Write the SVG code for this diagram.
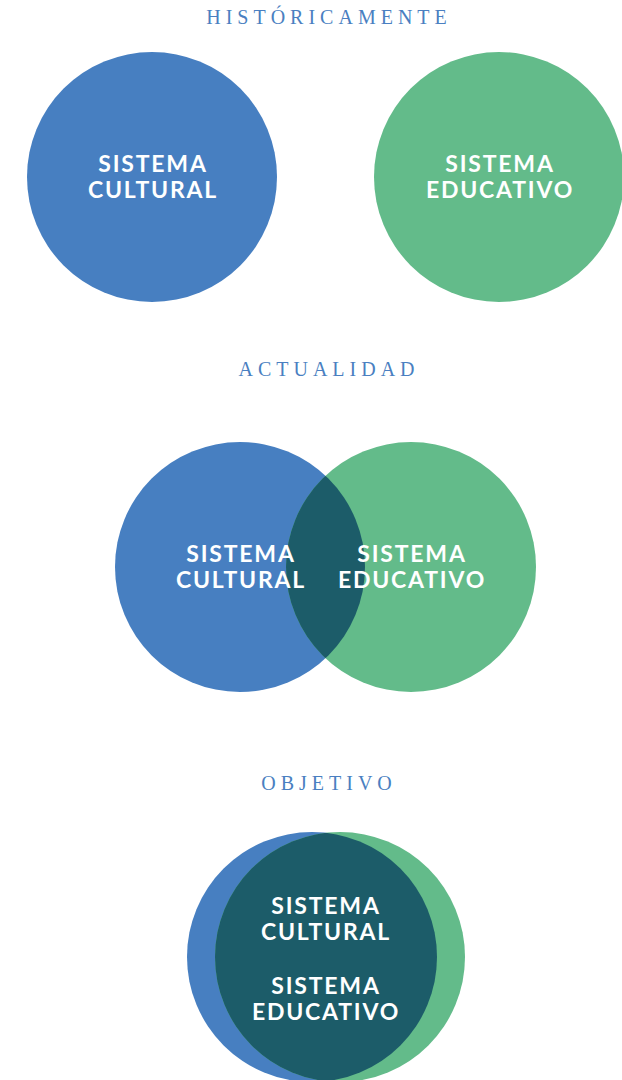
<svg xmlns="http://www.w3.org/2000/svg" width="622" height="1080" viewBox="0 0 622 1080">
<defs>
<style>
.title{font-family:"Liberation Serif","DejaVu Serif",serif;font-size:20px;fill:#4A7FC1;letter-spacing:5px;text-anchor:middle}
.lbl{font-family:Lato,"Liberation Sans",sans-serif;font-weight:bold;font-size:23px;fill:#ffffff;letter-spacing:1.8px;text-anchor:middle}
.blue{fill:#477FC1}
.green{fill:#63BB8A}
.dark{fill:#1C5C69}
</style>
<clipPath id="clipMidBlue"><circle cx="240" cy="567" r="125"/></clipPath>
<clipPath id="clipBotBlue"><circle cx="312" cy="957" r="125"/></clipPath>
</defs>
<rect width="622" height="1080" fill="#ffffff"/>

<g id="historicamente">
<text class="title" x="329" y="24">HISTÓRICAMENTE</text>
<g id="hist-cultural">
<circle class="blue" cx="152" cy="177" r="125"/>
<text class="lbl" x="153" y="172">SISTEMA</text>
<text class="lbl" x="153" y="198">CULTURAL</text>
</g>
<g id="hist-educativo">
<circle class="green" cx="499" cy="177" r="125"/>
<text class="lbl" x="500" y="172">SISTEMA</text>
<text class="lbl" x="500" y="198">EDUCATIVO</text>
</g>
</g>

<g id="actualidad">
<text class="title" x="329" y="376">ACTUALIDAD</text>
<g id="act-cultural">
<circle class="blue" cx="240" cy="567" r="125"/>
</g>
<g id="act-educativo">
<circle class="green" cx="411" cy="567" r="125"/>
</g>
<g id="act-overlap">
<circle class="dark" cx="411" cy="567" r="125" clip-path="url(#clipMidBlue)"/>
</g>
<text class="lbl" x="241" y="562">SISTEMA</text>
<text class="lbl" x="241" y="588">CULTURAL</text>
<text class="lbl" x="412" y="562">SISTEMA</text>
<text class="lbl" x="412" y="588">EDUCATIVO</text>
</g>

<g id="objetivo">
<text class="title" x="329" y="790">OBJETIVO</text>
<g id="obj-cultural">
<circle class="blue" cx="312" cy="957" r="125"/>
</g>
<g id="obj-educativo">
<circle class="green" cx="340" cy="957" r="125"/>
</g>
<g id="obj-overlap">
<circle class="dark" cx="340" cy="957" r="125" clip-path="url(#clipBotBlue)"/>
<text class="lbl" x="326" y="914">SISTEMA</text>
<text class="lbl" x="326" y="940">CULTURAL</text>
<text class="lbl" x="326" y="994">SISTEMA</text>
<text class="lbl" x="326" y="1020">EDUCATIVO</text>
</g>
</g>
</svg>
